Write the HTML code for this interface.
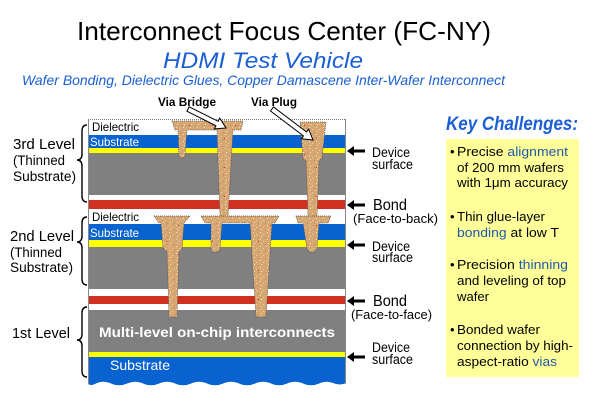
<!DOCTYPE html>
<html><head><meta charset="utf-8"><style>
html,body{margin:0;padding:0;background:#fff;}
svg{display:block;}
text{font-family:"Liberation Sans",Arial,sans-serif;}
</style></head><body>
<svg width="600" height="405" viewBox="0 0 600 405" xmlns="http://www.w3.org/2000/svg">
<defs>
<pattern id="sp" width="7" height="7" patternUnits="userSpaceOnUse">
<rect width="7" height="7" fill="#D6A673"/>
<rect x="1" y="1" width="1" height="1" fill="#F2DDB8"/>
<rect x="4" y="3" width="1" height="1" fill="#EBD0A6"/>
<rect x="2" y="5" width="1" height="1" fill="#F5E4C4"/>
<rect x="6" y="6" width="1" height="1" fill="#C08A5A"/>
</pattern>
<pattern id="sp2" width="23" height="29" patternUnits="userSpaceOnUse">
<rect x="5" y="9" width="1" height="1" fill="#E02020"/>
<rect x="17" y="22" width="1" height="1" fill="#E02020"/>
</pattern>
</defs>

<!-- Titles -->
<text x="77" y="40" font-size="26" fill="#000" textLength="414" lengthAdjust="spacingAndGlyphs">Interconnect Focus Center (FC-NY)</text>
<text x="163" y="68" font-size="22" font-style="italic" fill="#1A5FD6" textLength="200" lengthAdjust="spacingAndGlyphs">HDMI Test Vehicle</text>
<text x="22" y="85" font-size="14" font-style="italic" fill="#1A5FD6" textLength="483" lengthAdjust="spacingAndGlyphs">Wafer Bonding, Dielectric Glues, Copper Damascene Inter-Wafer Interconnect</text>

<!-- Layer stack -->
<g>
<rect x="88" y="119" width="258" height="16" fill="#fff"/>
<rect x="88" y="135" width="258" height="13" fill="#0862D0"/>
<rect x="88" y="148" width="258" height="5" fill="#FFFF00"/>
<rect x="88" y="153" width="258" height="42" fill="#808080"/>
<rect x="88" y="195" width="258" height="5" fill="#fff"/>
<rect x="88" y="200" width="258" height="9" fill="#D03020"/>
<rect x="88" y="209" width="258" height="15" fill="#fff"/>
<rect x="88" y="224" width="258" height="16" fill="#0862D0"/>
<rect x="88" y="240" width="258" height="7" fill="#FFFF00"/>
<rect x="88" y="247" width="258" height="42" fill="#808080"/>
<rect x="88" y="289" width="258" height="7" fill="#fff"/>
<rect x="88" y="296" width="258" height="8" fill="#D03020"/>
<rect x="88" y="304" width="258" height="6" fill="#fff"/>
<rect x="88" y="310" width="258" height="42" fill="#808080"/>
<rect x="88" y="352" width="258" height="5" fill="#FFFF00"/>
<path d="M88,357 H346 V383 Q340,386 333,383 Q326,380 318,384 Q310,387 302,383 Q294,380 286,384 Q278,387 270,383 Q262,380 254,384 Q246,387 238,383 Q230,380 222,384 Q214,387 206,383 Q198,380 190,384 Q182,387 174,383 Q166,380 158,384 Q150,387 142,383 Q134,380 126,384 Q118,387 110,383 Q102,380 95,384 Q91,386 88,384 Z" fill="#0862D0"/>
<line x1="88" y1="119.5" x2="346" y2="119.5" stroke="#777" stroke-width="1" stroke-dasharray="1,1"/>
<line x1="88.5" y1="119" x2="88.5" y2="384" stroke="#888" stroke-width="1"/>
<line x1="345.5" y1="119" x2="345.5" y2="384" stroke="#888" stroke-width="1"/>
</g>

<!-- Vias -->
<g fill="url(#sp)" stroke="#4a4a4a" stroke-width="0.7" stroke-dasharray="1,1">
<polygon points="172,121 243,121 241,130 233,130 228,217 220,217 217,130 187,130 185,156 183,158 181,158 179,156 178,130 175,130"/>
<polygon points="300,122 326,122 322,158 319,161 317,217 308,217 306,161 303,158"/>
<polygon points="154,216 190,216 184,223 182,249 179,252 177,317 169,317 167,252 163,248 161,223 159,223"/>
<polygon points="201,216 279,216 275,223 272,223 266,317 256,317 250,223 222,223 220,249 218,252 213,252 211,249 211,223 205,223"/>
<polygon points="296,216 331,216 328,223 319,223 317,249 314,252 310,252 307,249 303,223 298,223"/>
</g>
<g fill="url(#sp2)">
<polygon points="172,121 243,121 241,130 233,130 228,217 220,217 217,130 187,130 185,156 183,158 181,158 179,156 178,130 175,130"/>
<polygon points="300,122 326,122 322,158 319,161 317,217 308,217 306,161 303,158"/>
<polygon points="154,216 190,216 184,223 182,249 179,252 177,317 169,317 167,252 163,248 161,223 159,223"/>
<polygon points="201,216 279,216 275,223 272,223 266,317 256,317 250,223 222,223 220,249 218,252 213,252 211,249 211,223 205,223"/>
<polygon points="296,216 331,216 328,223 319,223 317,249 314,252 310,252 307,249 303,223 298,223"/>
</g>

<!-- layer labels -->
<text x="92" y="131" font-size="12" fill="#000" textLength="47" lengthAdjust="spacingAndGlyphs">Dielectric</text>
<text x="90" y="146" font-size="12" fill="#fff" textLength="49" lengthAdjust="spacingAndGlyphs">Substrate</text>
<text x="92" y="221" font-size="12" fill="#000" textLength="47" lengthAdjust="spacingAndGlyphs">Dielectric</text>
<text x="90" y="237" font-size="12" fill="#fff" textLength="49" lengthAdjust="spacingAndGlyphs">Substrate</text>
<text x="99" y="337" font-size="14" font-weight="bold" fill="#fff" textLength="236" lengthAdjust="spacingAndGlyphs">Multi-level on-chip interconnects</text>
<text x="110" y="370" font-size="14" fill="#fff" textLength="60" lengthAdjust="spacingAndGlyphs">Substrate</text>

<!-- Via labels & arrows -->
<text x="158" y="106" font-size="12" font-weight="bold" fill="#000" textLength="58" lengthAdjust="spacingAndGlyphs">Via Bridge</text>
<text x="251" y="106" font-size="12" font-weight="bold" fill="#000" textLength="46" lengthAdjust="spacingAndGlyphs">Via Plug</text>
<polygon points="186.88,111.24 215.94,125.77 214.38,128.89 226,128 219.74,118.17 218.18,121.29 189.12,106.76" fill="#fff" stroke="#000" stroke-width="1"/>
<polygon points="270.49,111 303.51,135.97 301.4,138.76 313,140 308.64,129.18 306.53,131.97 273.51,107" fill="#fff" stroke="#000" stroke-width="1"/>

<!-- Braces -->
<g fill="none" stroke="#000" stroke-width="1.4">
<path d="M87,125 Q82,125 82,131 L82,154 Q82,160 77,160 Q82,160 82,166 L82,196 Q82,202 87,202"/>
<path d="M87,217 Q82,217 82,223 L82,236 Q82,242 77,242 Q82,242 82,248 L82,279 Q82,285 87,285"/>
<path d="M87,307 Q82,307 82,313 L82,334 Q82,340 77,340 Q82,340 82,346 L82,371 Q82,377 87,377"/>
</g>

<!-- Left labels -->
<text x="13" y="149" font-size="15" fill="#000" textLength="62" lengthAdjust="spacingAndGlyphs">3rd Level</text>
<text x="13" y="165" font-size="13.5" fill="#000" textLength="52" lengthAdjust="spacingAndGlyphs">(Thinned</text>
<text x="13" y="181" font-size="13.5" fill="#000" textLength="63" lengthAdjust="spacingAndGlyphs">Substrate)</text>
<text x="10" y="241" font-size="15" fill="#000" textLength="64" lengthAdjust="spacingAndGlyphs">2nd Level</text>
<text x="10" y="257" font-size="13.5" fill="#000" textLength="52" lengthAdjust="spacingAndGlyphs">(Thinned</text>
<text x="10" y="272" font-size="13.5" fill="#000" textLength="63" lengthAdjust="spacingAndGlyphs">Substrate)</text>
<text x="12" y="338" font-size="15" fill="#000" textLength="58" lengthAdjust="spacingAndGlyphs">1st Level</text>

<!-- Right arrows -->
<g fill="#000">
<polygon points="347,151 354,146 354,149.5 365,149.5 365,152.5 354,152.5 354,156"/>
<polygon points="347,205 354,200 354,203.5 365,203.5 365,206.5 354,206.5 354,210"/>
<polygon points="347,245 354,240 354,243.5 365,243.5 365,246.5 354,246.5 354,250"/>
<polygon points="347,301 354,296 354,299.5 365,299.5 365,302.5 354,302.5 354,306"/>
<polygon points="347,357 354,352 354,355.5 365,355.5 365,358.5 354,358.5 354,362"/>
</g>
<g font-size="13.5" fill="#000">
<text x="372" y="157" textLength="38" lengthAdjust="spacingAndGlyphs">Device</text>
<text x="372" y="169" textLength="41" lengthAdjust="spacingAndGlyphs">surface</text>
<text x="372" y="251" textLength="38" lengthAdjust="spacingAndGlyphs">Device</text>
<text x="372" y="262" textLength="41" lengthAdjust="spacingAndGlyphs">surface</text>
<text x="372" y="352" textLength="38" lengthAdjust="spacingAndGlyphs">Device</text>
<text x="372" y="364" textLength="41" lengthAdjust="spacingAndGlyphs">surface</text>
</g>
<text x="373" y="210" font-size="16" fill="#000" textLength="34" lengthAdjust="spacingAndGlyphs">Bond</text>
<text x="353" y="223" font-size="13" fill="#000" textLength="85" lengthAdjust="spacingAndGlyphs">(Face-to-back)</text>
<text x="373" y="306" font-size="16" fill="#000" textLength="34" lengthAdjust="spacingAndGlyphs">Bond</text>
<text x="351" y="319" font-size="13" fill="#000" textLength="81" lengthAdjust="spacingAndGlyphs">(Face-to-face)</text>

<!-- Key challenges -->
<text x="446" y="130" font-family="Liberation Serif,serif" font-size="19" font-weight="bold" font-style="italic" fill="#1A5FD6" textLength="132" lengthAdjust="spacingAndGlyphs">Key Challenges:</text>
<rect x="446" y="139" width="133" height="238" fill="#FFFF99"/>
<g font-size="13" fill="#000">
<text x="450" y="156">•</text>
<text x="457" y="156" textLength="111" lengthAdjust="spacingAndGlyphs">Precise <tspan fill="#1F5AA8">alignment</tspan></text>
<text x="457" y="172" textLength="107" lengthAdjust="spacingAndGlyphs">of 200 mm wafers</text>
<text x="457" y="187" textLength="111" lengthAdjust="spacingAndGlyphs">with 1μm accuracy</text>
<text x="450" y="221">•</text>
<text x="457" y="221" textLength="88" lengthAdjust="spacingAndGlyphs">Thin glue-layer</text>
<text x="457" y="237" textLength="102" lengthAdjust="spacingAndGlyphs"><tspan fill="#1F5AA8">bonding</tspan> at low T</text>
<text x="450" y="269">•</text>
<text x="457" y="269" textLength="111" lengthAdjust="spacingAndGlyphs">Precision <tspan fill="#1F5AA8">thinning</tspan></text>
<text x="457" y="285" textLength="109" lengthAdjust="spacingAndGlyphs">and leveling of top</text>
<text x="457" y="301" textLength="32" lengthAdjust="spacingAndGlyphs">wafer</text>
<text x="450" y="334">•</text>
<text x="457" y="334" textLength="83" lengthAdjust="spacingAndGlyphs">Bonded wafer</text>
<text x="457" y="350" textLength="116" lengthAdjust="spacingAndGlyphs">connection by high-</text>
<text x="457" y="366" textLength="100" lengthAdjust="spacingAndGlyphs">aspect-ratio <tspan fill="#1F5AA8">vias</tspan></text>
</g>
</svg>
</body></html>
